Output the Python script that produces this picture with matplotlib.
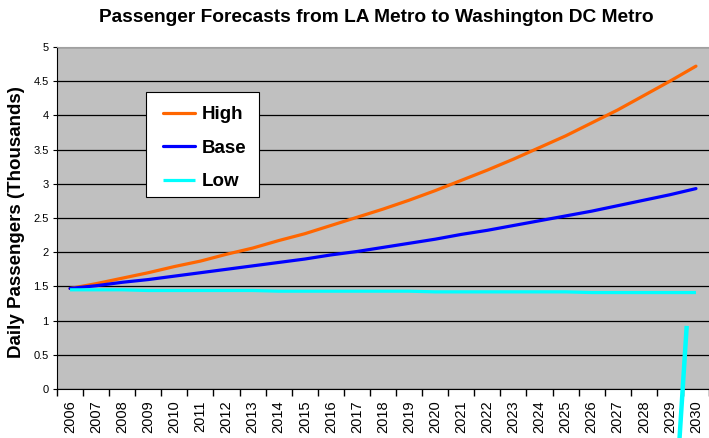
import matplotlib
matplotlib.use("Agg")
import matplotlib.pyplot as plt
from matplotlib.patches import Rectangle
import numpy as np

years = [str(y) for y in range(2006, 2031)]
high = [1.47, 1.54, 1.62, 1.70, 1.79, 1.87, 1.97, 2.06, 2.17, 2.27, 2.39, 2.51, 2.63,
        2.76, 2.90, 3.05, 3.20, 3.36, 3.53, 3.70, 3.89, 4.08, 4.29, 4.50, 4.72]
base = [1.47, 1.51, 1.56, 1.60, 1.65, 1.70, 1.75, 1.80, 1.85, 1.90, 1.96, 2.01, 2.07,
        2.13, 2.19, 2.26, 2.32, 2.39, 2.46, 2.53, 2.60, 2.68, 2.76, 2.84, 2.93]
low = [1.45, 1.45, 1.45, 1.44, 1.44, 1.44, 1.44, 1.44, 1.43, 1.43, 1.43, 1.43, 1.43,
       1.43, 1.42, 1.42, 1.42, 1.42, 1.42, 1.42, 1.41, 1.41, 1.41, 1.41, 1.41]
# stray cyan stroke near the bottom right (category position, value)
stray_x = [23.64, 23.37]
stray_y = [0.89, -0.72]

plt.rcParams['font.family'] = ['Liberation Sans', 'DejaVu Sans']

W, H = 709, 438
L, R, T, B = 57, 709, 47, 389
fig = plt.figure(figsize=(W/100, H/100), dpi=100)
ax = fig.add_axes([L/W, 1-B/H, (R-L)/W, (B-T)/H])
ax.set_facecolor('#C0C0C0')

x = np.arange(len(years))
ax.plot(x, high, color='#FF6600', lw=2.3, label='High', solid_capstyle='round', zorder=3)
ax.plot(x, base, color='#0000FF', lw=2.3, label='Base', solid_capstyle='round', zorder=3)
ax.plot(x, low, color='#00FFFF', lw=2.3, label='Low', solid_capstyle='butt', zorder=3)
ax.plot(stray_x, stray_y, color='#00FFFF', lw=3.2, clip_on=False, zorder=5)

ax.set_xlim(-0.5, len(years) - 0.5)
ax.set_ylim(0, 5)
ax.set_yticks(np.arange(0, 5.01, 0.5))
ax.set_yticklabels(['0', '0.5', '1', '1.5', '2', '2.5', '3', '3.5', '4', '4.5', '5'])
ax.yaxis.grid(True, color='black', lw=0.9)
ax.set_axisbelow(True)

ax.set_xticks(x)
ax.set_xticklabels(years, rotation=90, fontsize=10.5)
ax.set_xticks(np.arange(-0.5, len(years), 1.0), minor=True)
ax.tick_params(axis='x', which='major', length=0, pad=8)
ax.tick_params(axis='x', which='minor', length=5, width=1, direction='out')
ax.tick_params(axis='y', which='major', length=3, labelsize=8, pad=3)

ax.spines['right'].set_visible(False)
ax.spines['top'].set_color('#A0A0A0')
ax.spines['left'].set_color('black')
ax.spines['bottom'].set_color('black')

fig.text(17/W, 1-222/H, 'Daily Passengers (Thousands)', rotation=90,
         ha='center', va='center', fontsize=13.5, fontweight='bold')

fig.text(376/W, 1-17/H, 'Passenger Forecasts from LA Metro to Washington DC Metro',
         ha='center', va='center', fontsize=13.8, fontweight='bold')

# legend box
bx0, by0, bx1, by1 = 146, 92, 259, 197
ax.add_patch(Rectangle(((bx0-L)/(R-L), (B-by1)/(B-T)), (bx1-bx0)/(R-L), (by1-by0)/(B-T),
                       transform=ax.transAxes, facecolor='white', edgecolor='black',
                       lw=0.8, zorder=4))
leg = ax.legend(loc='upper left', bbox_to_anchor=((163-L)/(R-L), (B-106)/(B-T)),
                frameon=False, prop={'weight': 'bold', 'size': 13.5}, handlelength=1.7,
                labelspacing=0.88, borderpad=0, handletextpad=0.35, borderaxespad=0)
leg.set_zorder(6)

fig.savefig('out.png', dpi=100)
